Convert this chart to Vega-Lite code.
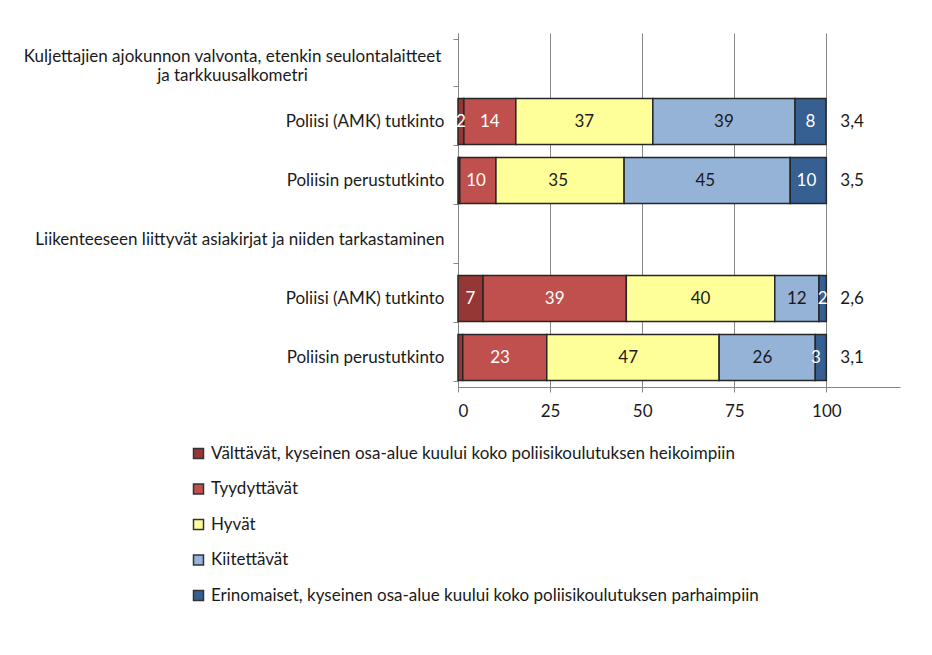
{
  "$schema": "https://vega.github.io/schema/vega-lite/v6.json",
  "autosize": {"type": "none"},
  "width": 442,
  "height": 354,
  "padding": {"left": 458, "top": 33, "right": 32, "bottom": 268},
  "background": "white",
  "config": {
    "font": "Lato",
    "view": {"stroke": null},
    "locale": {"number": {"decimal": ",", "thousands": " ", "grouping": [3], "currency": ["", " €"]}}
  },
  "layer": [
    {
      "data": {
        "values": [
          {"rivi": "K1", "luokka": "Välttävät, kyseinen osa-alue kuului koko poliisikoulutuksen heikoimpiin", "arvosana": 1, "osuus": 1.6},
          {"rivi": "K1", "luokka": "Tyydyttävät", "arvosana": 2, "osuus": 14.1},
          {"rivi": "K1", "luokka": "Hyvät", "arvosana": 3, "osuus": 37.2},
          {"rivi": "K1", "luokka": "Kiitettävät", "arvosana": 4, "osuus": 38.6},
          {"rivi": "K1", "luokka": "Erinomaiset, kyseinen osa-alue kuului koko poliisikoulutuksen parhaimpiin", "arvosana": 5, "osuus": 8.4},
          {"rivi": "K2", "luokka": "Välttävät, kyseinen osa-alue kuului koko poliisikoulutuksen heikoimpiin", "arvosana": 1, "osuus": 0.5},
          {"rivi": "K2", "luokka": "Tyydyttävät", "arvosana": 2, "osuus": 9.8},
          {"rivi": "K2", "luokka": "Hyvät", "arvosana": 3, "osuus": 34.8},
          {"rivi": "K2", "luokka": "Kiitettävät", "arvosana": 4, "osuus": 45.1},
          {"rivi": "K2", "luokka": "Erinomaiset, kyseinen osa-alue kuului koko poliisikoulutuksen parhaimpiin", "arvosana": 5, "osuus": 9.8},
          {"rivi": "L1", "luokka": "Välttävät, kyseinen osa-alue kuului koko poliisikoulutuksen heikoimpiin", "arvosana": 1, "osuus": 6.8},
          {"rivi": "L1", "luokka": "Tyydyttävät", "arvosana": 2, "osuus": 38.9},
          {"rivi": "L1", "luokka": "Hyvät", "arvosana": 3, "osuus": 40.3},
          {"rivi": "L1", "luokka": "Kiitettävät", "arvosana": 4, "osuus": 12.0},
          {"rivi": "L1", "luokka": "Erinomaiset, kyseinen osa-alue kuului koko poliisikoulutuksen parhaimpiin", "arvosana": 5, "osuus": 2.0},
          {"rivi": "L2", "luokka": "Välttävät, kyseinen osa-alue kuului koko poliisikoulutuksen heikoimpiin", "arvosana": 1, "osuus": 1.3},
          {"rivi": "L2", "luokka": "Tyydyttävät", "arvosana": 2, "osuus": 22.8},
          {"rivi": "L2", "luokka": "Hyvät", "arvosana": 3, "osuus": 46.8},
          {"rivi": "L2", "luokka": "Kiitettävät", "arvosana": 4, "osuus": 26.1},
          {"rivi": "L2", "luokka": "Erinomaiset, kyseinen osa-alue kuului koko poliisikoulutuksen parhaimpiin", "arvosana": 5, "osuus": 3.0}
        ]
      },
      "layer": [
        {
          "mark": {"type": "bar", "stroke": "#262626", "strokeWidth": 1.5},
          "encoding": {
            "y": {
              "field": "rivi", "type": "nominal",
              "scale": {"domain": ["K", "K1", "K2", "L", "L1", "L2"], "paddingInner": 0.22, "paddingOuter": 0.11},
              "axis": {
                "title": null,
                "tickBand": "extent",
                "domainColor": "#868686",
                "tickColor": "#868686",
                "tickSize": 5,
                "labelFontSize": 17,
                "labelColor": "#1a1a1a",
                "labelLimit": 600,
                "labelLineHeight": 19,
                "labelAlign": {"condition": {"test": "datum.value == 'K'", "value": "center"}, "value": "right"},
                "labelPadding": {"condition": {"test": "datum.value == 'K'", "value": 221}, "value": 9},
                "labelOffset": {"condition": {"test": "datum.value == 'K'", "value": -6}, "value": 0},
                "labelExpr": "datum.value == 'K' ? ['Kuljettajien ajokunnon valvonta, etenkin seulontalaitteet', 'ja tarkkuusalkometri'] : datum.value == 'L' ? 'Liikenteeseen liittyvät asiakirjat ja niiden tarkastaminen' : (datum.value == 'K1' || datum.value == 'L1') ? 'Poliisi (AMK) tutkinto' : (datum.value == 'K2' || datum.value == 'L2') ? 'Poliisin perustutkinto' : ''"
              }
            },
            "x": {
              "field": "osuus", "type": "quantitative", "stack": "zero",
              "scale": {"domain": [0, 120], "nice": false},
              "axis": {
                "title": null,
                "values": [0, 25, 50, 75, 100],
                "grid": true,
                "gridColor": "#868686",
                "domainColor": "#868686",
                "tickColor": "#868686",
                "tickSize": 5,
                "labelFontSize": 17,
                "labelColor": "#1a1a1a",
                "labelPadding": 11
              }
            },
            "color": {
              "field": "luokka", "type": "nominal",
              "scale": {
                "domain": ["Välttävät, kyseinen osa-alue kuului koko poliisikoulutuksen heikoimpiin", "Tyydyttävät", "Hyvät", "Kiitettävät", "Erinomaiset, kyseinen osa-alue kuului koko poliisikoulutuksen parhaimpiin"],
                "range": ["#953735", "#C0504D", "#FFFF99", "#95B3D7", "#366092"]
              },
              "legend": {
                "title": null,
                "orient": "none",
                "legendX": -268,
                "legendY": 412,
                "direction": "vertical",
                "symbolType": "square",
                "symbolSize": 100,
                "symbolStrokeColor": "#333333",
                "symbolStrokeWidth": 1.5,
                "labelFontSize": 17,
                "labelColor": "#1a1a1a",
                "labelLimit": 700,
                "labelOffset": 4,
                "rowPadding": 17.5
              }
            },
            "order": {"field": "arvosana", "type": "quantitative"}
          }
        },
        {
          "transform": [{"filter": "datum.osuus >= 1.5"}],
          "mark": {"type": "text", "fontSize": 17, "baseline": "middle", "align": "center"},
          "encoding": {
            "y": {"field": "rivi", "type": "nominal"},
            "x": {"field": "osuus", "type": "quantitative", "stack": "zero", "bandPosition": 0.5},
            "order": {"field": "arvosana", "type": "quantitative"},
            "text": {"field": "osuus", "type": "quantitative", "format": ".0f"},
            "color": {"condition": {"test": "datum.arvosana == 3 || datum.arvosana == 4", "value": "#1a1a1a"}, "value": "white"}
          }
        }
      ]
    },
    {
      "data": {
        "values": [
          {"rivi": "K1", "keskiarvo": 3.4},
          {"rivi": "K2", "keskiarvo": 3.5},
          {"rivi": "L1", "keskiarvo": 2.6},
          {"rivi": "L2", "keskiarvo": 3.1}
        ]
      },
      "mark": {"type": "text", "fontSize": 17, "baseline": "middle", "align": "center", "color": "#1a1a1a"},
      "encoding": {
        "y": {"field": "rivi", "type": "nominal"},
        "x": {"datum": 107, "type": "quantitative"},
        "text": {"field": "keskiarvo", "type": "quantitative", "format": ".1f"}
      }
    }
  ]
}
